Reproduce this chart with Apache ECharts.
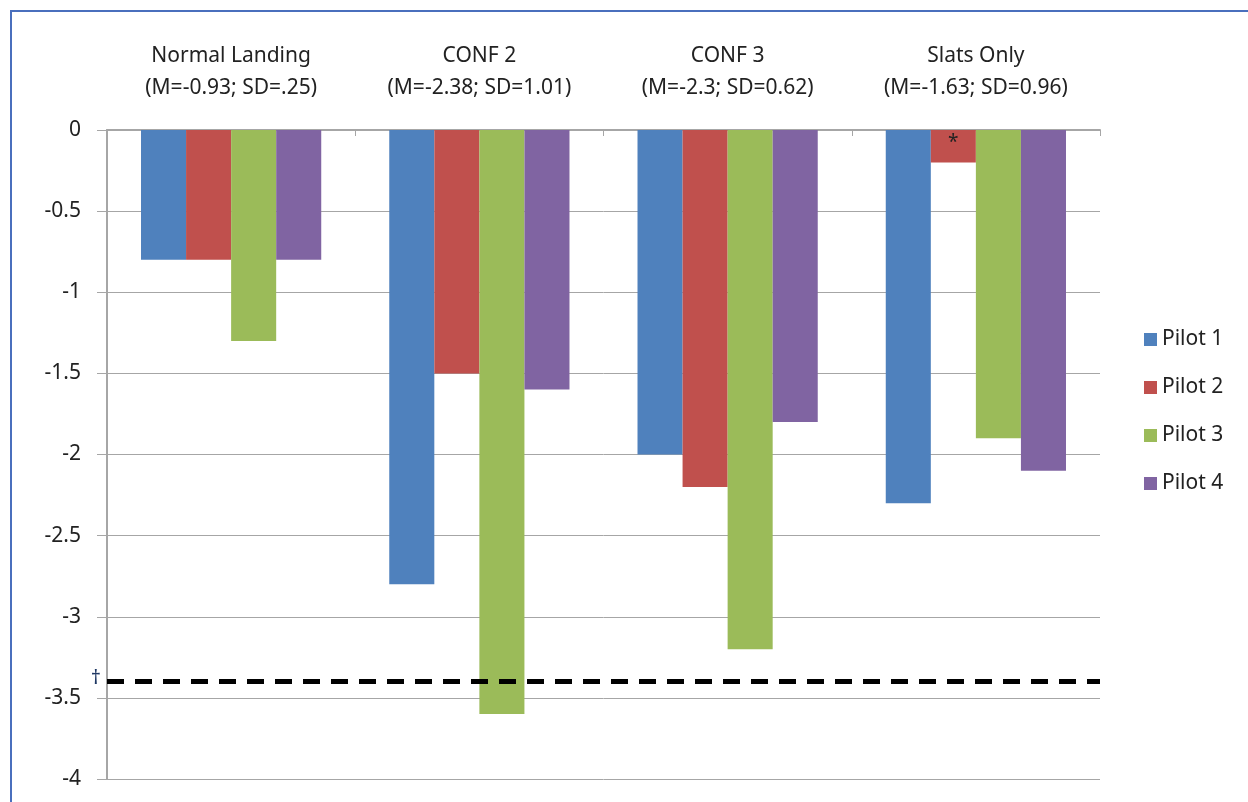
<!DOCTYPE html>
<html>
<head>
<meta charset="utf-8">
<script src="https://cdn.jsdelivr.net/npm/echarts@6/dist/echarts.min.js"></script>
<style>
  html, body { margin: 0; padding: 0; background: #fff; }
  #frame {
    position: absolute; left: 10px; top: 10px; width: 1240px; height: 794px;
    border-left: 2px solid #4a6fbd; border-top: 2px solid #4a6fbd;
  }
  #chart { position: absolute; left: 0; top: 0; width: 1248px; height: 802px; }
</style>
</head>
<body>
<div id="frame"></div>
<div id="chart"></div>
<script>
// conditions along the top axis
const categories = [
  'Normal Landing\n(M=-0.93; SD=.25)',
  'CONF 2\n(M=-2.38; SD=1.01)',
  'CONF 3\n(M=-2.3; SD=0.62)',
  'Slats Only\n(M=-1.63; SD=0.96)'
];
const pilot1 = [-0.8, -2.8, -2.0, -2.3];
const pilot2 = [-0.8, -1.5, -2.2, -0.2];
const pilot3 = [-1.3, -3.6, -3.2, -1.9];
const pilot4 = [-0.8, -1.6, -1.8, -2.1];
const pilotNames = ['Pilot 1', 'Pilot 2', 'Pilot 3', 'Pilot 4'];
const colors = ['#4f81bd', '#c0504d', '#9bbb59', '#8064a2'];
const thresholdValue = -3.4; // dashed reference line
const starredIndex = 3;       // pilot 2 bar marked with *

const font = '"Noto Sans", "Open Sans", sans-serif';
const chart = echarts.init(document.getElementById('chart'));

const allData = [pilot1, pilot2, pilot3, pilot4];
const series = allData.map((vals, i) => {
  const s = {
    name: pilotNames[i],
    type: 'bar',
    barGap: '0%',
    barCategoryGap: '27.4%',
    itemStyle: { color: colors[i] },
    data: vals.map((v, j) => {
      if (i === 1 && j === starredIndex) {
        return {
          value: v,
          label: {
            show: true, position: 'insideTop', formatter: '*',
            color: '#222', fontSize: 19, fontFamily: font, distance: 3
          }
        };
      }
      return v;
    })
  };
  if (i === 0) {
    // dashed threshold line with dagger mark
    s.markLine = {
      silent: true,
      symbol: 'none',
      lineStyle: { color: '#000', type: [17, 11], width: 5 },
      label: {
        show: true, position: 'start', formatter: '\u2020',
        color: '#1f3864', fontSize: 20, fontFamily: font, distance: 6, offset: [0, -3]
      },
      data: [{ yAxis: thresholdValue }]
    };
  }
  return s;
});

chart.setOption({
  animation: false,
  textStyle: { fontFamily: font },
  grid: { left: 107, right: 148, top: 130, bottom: 23 },
  legend: {
    orient: 'vertical',
    left: 1139,
    top: 324,
    itemWidth: 13,
    itemHeight: 13,
    itemGap: 27,
    icon: 'rect',
    textStyle: { fontSize: 21, color: '#222', fontFamily: font }
  },
  xAxis: {
    type: 'category',
    position: 'top',
    data: categories,
    axisLine: { onZero: false, lineStyle: { color: '#a6a6a6', width: 2 } },
    axisTick: { show: true, inside: true, length: 6, lineStyle: { color: '#a6a6a6' } },
    axisLabel: {
      margin: 26, fontSize: 21, lineHeight: 32, color: '#222', fontFamily: font,
      interval: 0
    }
  },
  yAxis: {
    type: 'value',
    min: -4,
    max: 0,
    interval: 0.5,
    axisLine: { show: true, lineStyle: { color: '#a6a6a6', width: 2 } },
    axisTick: { show: true, length: 10, lineStyle: { color: '#a6a6a6' } },
    splitLine: { lineStyle: { color: '#a6a6a6', width: 1 } },
    axisLabel: { margin: 26, fontSize: 21, color: '#222', fontFamily: font }
  },
  series: series
});
</script>
</body>
</html>
